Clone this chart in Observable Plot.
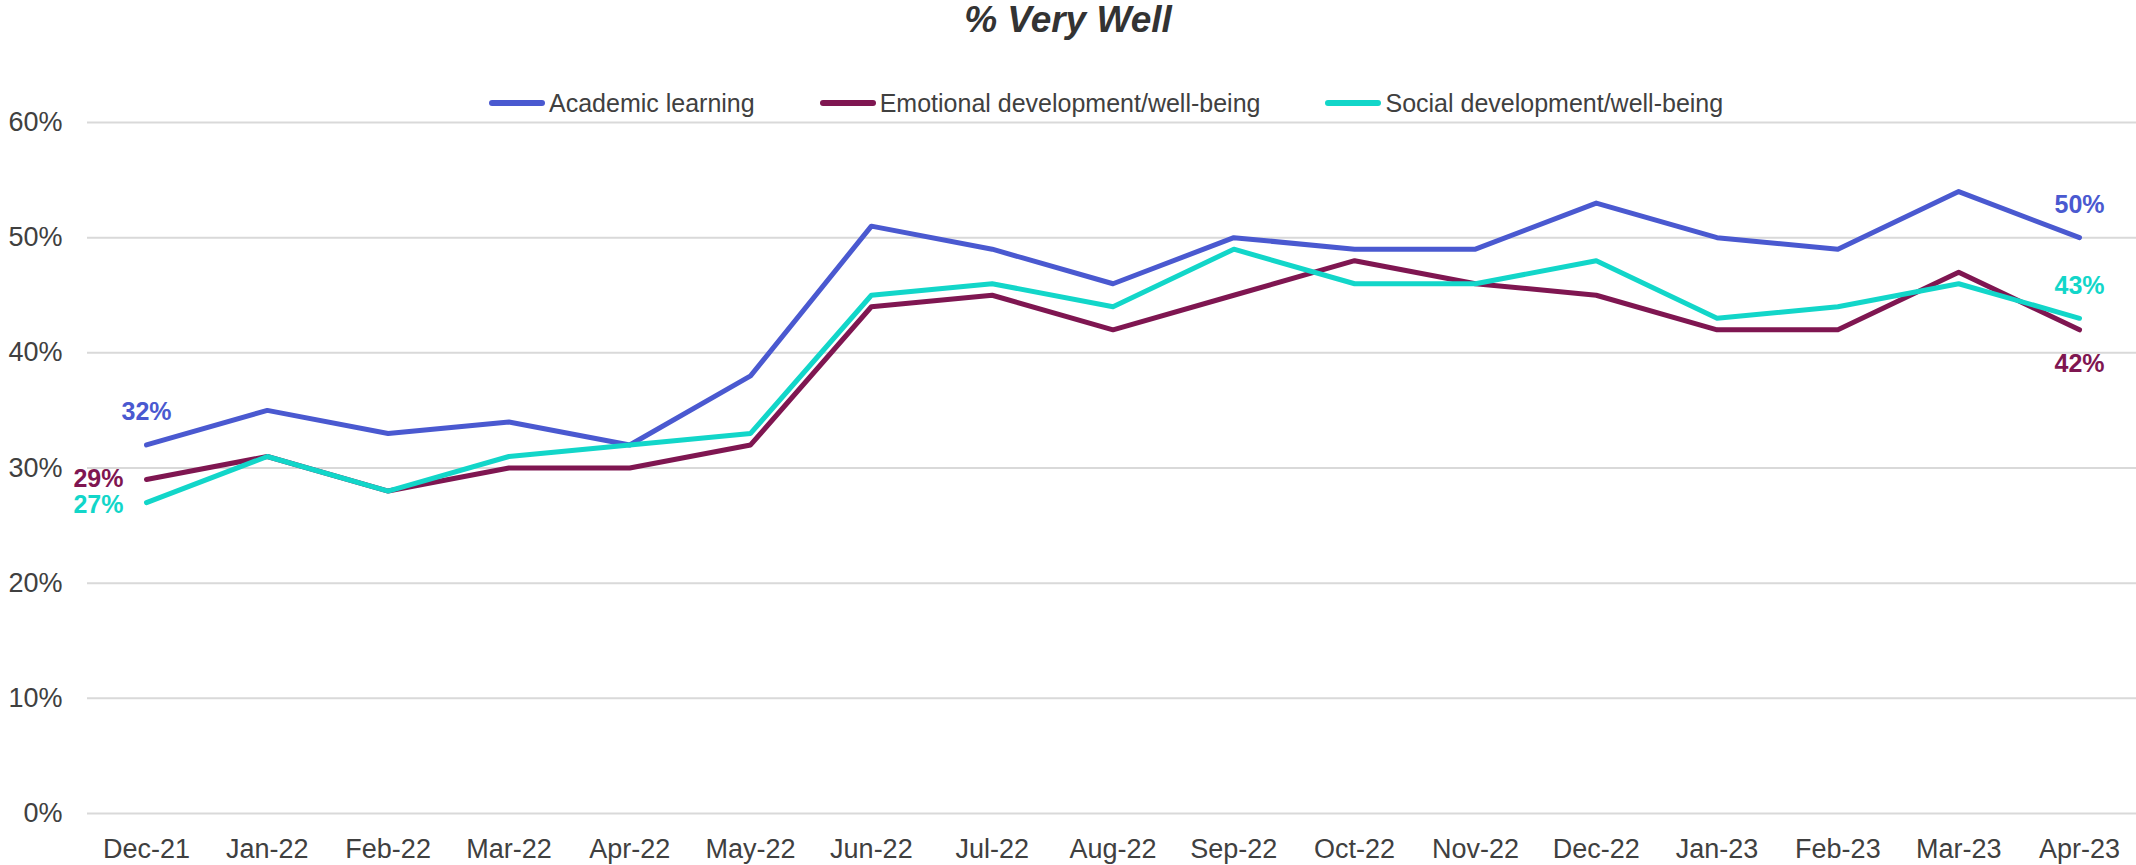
<!DOCTYPE html>
<html>
<head>
<meta charset="utf-8">
<script src="https://cdn.jsdelivr.net/npm/d3@7"></script>
<script src="https://cdn.jsdelivr.net/npm/@observablehq/plot@0.6"></script>
<style>
  html, body { margin: 0; padding: 0; background: #fff; }
  #wrap { position: relative; width: 2136px; height: 865px; font-family: "Liberation Sans", Arial, sans-serif; color: #404040; }
  #title { position: absolute; left: 0; top: 0; width: 2136px; text-align: center; font-size: 37px; line-height: 40px; font-weight: bold; font-style: italic; color: #333; }
  #legend { position: absolute; left: 489px; top: 88px; height: 30px; display: flex; align-items: center; font-size: 25px; line-height: 30px; }
  .item { display: flex; align-items: center; margin-right: 65px; }
  .sw { width: 56px; height: 6px; border-radius: 3px; margin-right: 4px; }
  #chart { position: absolute; left: 0; top: 0; }
</style>
</head>
<body>
<div id="wrap">
  <div id="chart"></div>
  <div id="title">% Very Well</div>
  <div id="legend"></div>
</div>
<script>
const months = ["Dec-21","Jan-22","Feb-22","Mar-22","Apr-22","May-22","Jun-22","Jul-22","Aug-22","Sep-22","Oct-22","Nov-22","Dec-22","Jan-23","Feb-23","Mar-23","Apr-23"];
const seriesNames = ["Academic learning","Emotional development/well-being","Social development/well-being"];
const academic  = [32,35,33,34,32,38,51,49,46,50,49,49,53,50,49,54,50];
const emotional = [29,31,28,30,30,32,44,45,42,45,48,46,45,42,42,47,42];
const social    = [27,31,28,31,32,33,45,46,44,49,46,46,48,43,44,46,43];
const yTicks = [0,10,20,30,40,50,60];
const colors = ["#4a59d0","#7f1651","#12d6c9"];

const seriesValues = [academic, emotional, social];
const rows = [];
seriesNames.forEach((s, k) => seriesValues[k].forEach((v, i) => rows.push({series: s, month: months[i], value: v, i})));
const last = months.length - 1;

// legend
const leg = document.getElementById("legend");
seriesNames.forEach((s, k) => {
  const it = document.createElement("div");
  it.className = "item";
  it.innerHTML = `<div class="sw" style="background:${colors[k]}"></div><span>${s}</span>`;
  leg.appendChild(it);
});

const fmt = d => d + "%";
const firstRow = s => rows.filter(r => r.series === s && r.i === 0);
const lastRow = s => rows.filter(r => r.series === s && r.i === last);
const lab = {fill: "series", text: r => fmt(r.value), fontWeight: "bold", fontSize: 25, x: "month", y: "value"};

const chart = Plot.plot({
  width: 2136,
  height: 865,
  marginTop: 122,
  marginBottom: 52,
  marginLeft: 87,
  marginRight: 0,
  style: {fontFamily: "'Liberation Sans', Arial, sans-serif", fontSize: "27px", color: "#404040", background: "transparent"},
  x: {type: "point", domain: months, range: [146, 2079], padding: 0, round: false, label: null},
  y: {domain: [0, 60], label: null},
  color: {domain: seriesNames, range: colors},
  marks: [
    Plot.ruleY(yTicks, {stroke: "#d9d9d9", strokeWidth: 2}),
    Plot.axisY({ticks: yTicks, tickSize: 0, tickPadding: 25, fontSize: 27, tickFormat: fmt, label: null}),
    Plot.axisX({tickSize: 0, tickPadding: 25, fontSize: 27, label: null}),
    Plot.line(rows, {x: "month", y: "value", z: "series", stroke: "series", strokeWidth: 5, strokeLinejoin: "round"}),
    Plot.text(firstRow(seriesNames[0]), {...lab, dy: -33}),
    Plot.text(firstRow(seriesNames[1]), {...lab, textAnchor: "end", dx: -23, dy: -1}),
    Plot.text(firstRow(seriesNames[2]), {...lab, textAnchor: "end", dx: -23, dy: 2}),
    Plot.text(lastRow(seriesNames[0]), {...lab, dy: -33}),
    Plot.text(lastRow(seriesNames[1]), {...lab, dy: 34}),
    Plot.text(lastRow(seriesNames[2]), {...lab, dy: -32})
  ]
});
document.getElementById("chart").appendChild(chart);
</script>
</body>
</html>
